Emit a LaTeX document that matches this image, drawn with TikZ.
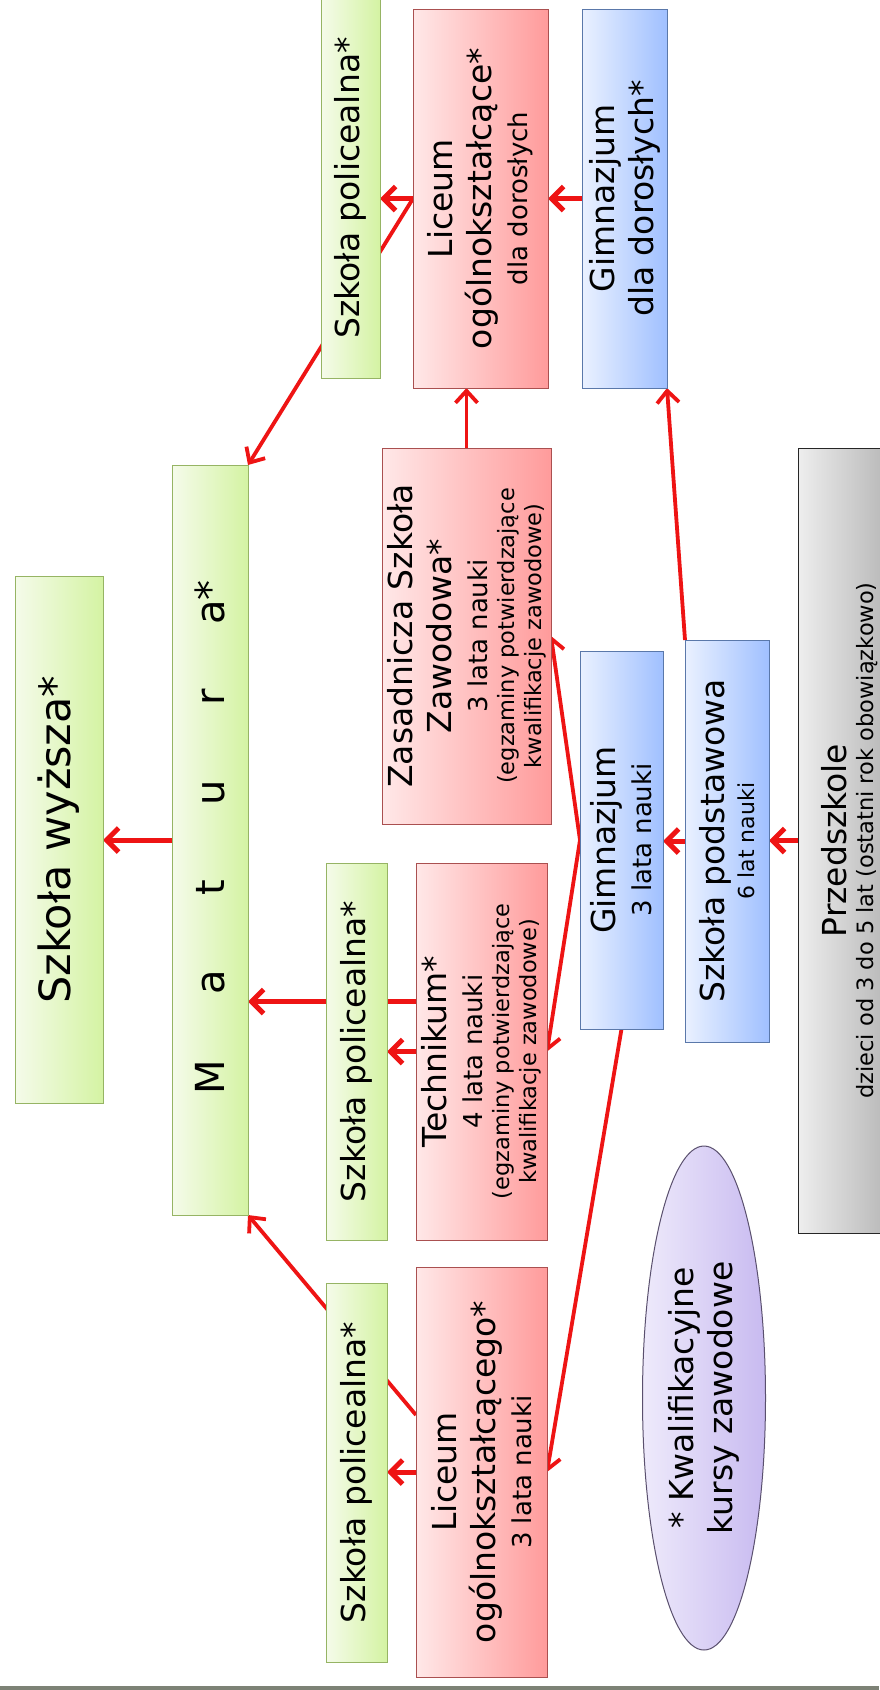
\documentclass[tikz,border=0pt]{standalone}
\usepackage{fontspec}
\setmainfont{DejaVu Sans}
\usepackage{graphicx}
\usetikzlibrary{arrows.meta,shapes.geometric,calc}
\pgfdeclarelayer{bg}\pgfsetlayers{bg,main}
\definecolor{gL}{RGB}{245,251,234}
\definecolor{gR}{RGB}{212,243,163}
\definecolor{gB}{RGB}{150,180,100}
\definecolor{rL}{RGB}{255,232,232}
\definecolor{rR}{RGB}{255,155,155}
\definecolor{rB}{RGB}{170,80,80}
\definecolor{bL}{RGB}{234,241,255}
\definecolor{bR}{RGB}{160,192,255}
\definecolor{bB}{RGB}{90,120,170}
\definecolor{kL}{RGB}{238,238,238}
\definecolor{kR}{RGB}{175,175,175}
\definecolor{vL}{RGB}{238,234,251}
\definecolor{vR}{RGB}{200,186,240}
\definecolor{vB}{RGB}{90,80,110}
\definecolor{arrowred}{RGB}{238,20,20}
\definecolor{stripcol}{RGB}{125,130,118}
\newcommand\rt[2]{\rotatebox{90}{\parbox{#1pt}{\centering #2}}}
\newcommand\fA{\fontsize{33}{39}\selectfont}
\newcommand\fB{\fontsize{26}{36}\selectfont}
\newcommand\fC{\fontsize{22.5}{27}\selectfont}
\newcommand\fD{\fontsize{22}{30}\selectfont}
\newcommand\ml[1]{\makebox[95pt]{#1}}
\tikzset{
  box/.style={draw, line width=1pt, rectangle, inner sep=0pt, outer sep=0pt},
  gbox/.style={box, draw=gB, left color=gL, right color=gR},
  rbox/.style={box, draw=rB, left color=rL, right color=rR},
  bbox/.style={box, draw=bB, left color=bL, right color=bR},
  kbox/.style={box, draw=black!85, left color=kL, right color=kR},
  vell/.style={ellipse, draw=vB, line width=1pt, inner sep=0pt, left color=vL, right color=vR},
  arr/.style={draw=arrowred, line width=3.8pt, -{Straight Barb[length=12pt,width=22pt]}},
  arrk/.style={draw=arrowred, line width=5pt, -{Straight Barb[length=12pt,width=24pt]}},
}
\begin{document}
\begin{tikzpicture}[x=1pt,y=-1pt]
\useasboundingbox (0,0) rectangle (879,1690);
\fill[stripcol] (0,1686) rectangle (879,1690);
% boxes
\node[gbox, minimum width=88, minimum height=527] (szw) at (59,839.5)
  {\rt{527}{\fontsize{43}{50}\selectfont Szkoła wyższa*}};
\node[gbox, minimum width=76, minimum height=750] (matura) at (210,840)
  {\rt{750}{\fontsize{40}{46}\selectfont\ml{M}\ml{a}\ml{t}\ml{u}\ml{r}\ml{a*}}};
\node[gbox, minimum width=59, minimum height=380] (sptop) at (350.5,188)
  {\rt{380}{\fA Szkoła policealna*}};
\node[gbox, minimum width=61, minimum height=377] (spmid) at (356.5,1051.5)
  {\rt{377}{\fA Szkoła policealna*}};
\node[gbox, minimum width=61, minimum height=379] (spbot) at (356.5,1472.5)
  {\rt{379}{\fA Szkoła policealna*}};
\node[rbox, minimum width=135, minimum height=379] (licdor) at (480.5,198.5)
  {\rt{379}{\fA Liceum\par ogólnokształcące*\par\fB dla dorosłych}};
\node[bbox, minimum width=85, minimum height=379] (gimdor) at (624.5,198.5)
  {\rt{379}{\fA Gimnazjum\par dla dorosłych*}};
\node[rbox, minimum width=169, minimum height=376] (zas) at (466.5,636)
  {\rt{376}{\fA Zasadnicza Szkoła\par Zawodowa*\par\fB 3 lata nauki\par\fC (egzaminy potwierdzające\par kwalifikacje zawodowe)}};
\node[rbox, minimum width=131, minimum height=377] (tech) at (481.5,1051.5)
  {\rt{377}{\fA Technikum*\par\fB 4 lata nauki\par\fC (egzaminy potwierdzające\par kwalifikacje zawodowe)}};
\node[rbox, minimum width=131, minimum height=410] (licog) at (481.5,1472)
  {\rt{410}{\fA Liceum\par ogólnokształcącego*\par\fB 3 lata nauki}};
\node[bbox, minimum width=83, minimum height=378] (gim) at (621.5,840)
  {\rt{378}{\fA Gimnazjum\par\fB 3 lata nauki}};
\node[bbox, minimum width=84, minimum height=402] (szp) at (727,841)
  {\rt{402}{\fA Szkoła podstawowa\par\fD 6 lat nauki}};
\node[kbox, minimum width=104, minimum height=785] (prz) at (850,840.5)
  {\rt{785}{\fA Przedszkole\par\fC dzieci od 3 do 5 lat (ostatni rok obowiązkowo)}};
\node[vell, minimum width=123, minimum height=504] (kw) at (704,1398)
  {\rt{300}{\fA * Kwalifikacyjne\par kursy zawodowe}};
% connectors
\begin{pgfonlayer}{bg}
\draw[arrk] (gimdor.west) -- (gimdor.west -| licdor.east);
\draw[arrk] (licdor.west) -- (licdor.west -| sptop.east);
\draw[arr] (licdor.west) -- (matura.north east);
\draw[arr] (zas.north) -- (zas.north |- licdor.south);
\draw[arr] (szp.north west) -- (gimdor.south east);
\draw[arr] (gim.west) -- (zas.east);
\draw[arr] (gim.west) -- (tech.east);
\draw[arrk] (szp.west) -- (szp.west -| gim.east);
\draw[arrk] (prz.west) -- (prz.west -| szp.east);
\draw[arrk] (matura.west) -- (matura.west -| szw.east);
\coordinate (techup) at ($(tech.west)+(0,-50)$);
\draw[arrk] (techup) -- (techup -| matura.east);
\draw[arrk] (tech.west) -- (tech.west -| spmid.east);
\draw[arr] (gim.south) -- (licog.east);
\draw[arrk] (licog.west) -- (licog.west -| spbot.east);
\coordinate (licogup) at ($(licog.west)+(0,-57)$);
\draw[arr] (licogup) -- (matura.south east);
\end{pgfonlayer}
\end{tikzpicture}
\end{document}
